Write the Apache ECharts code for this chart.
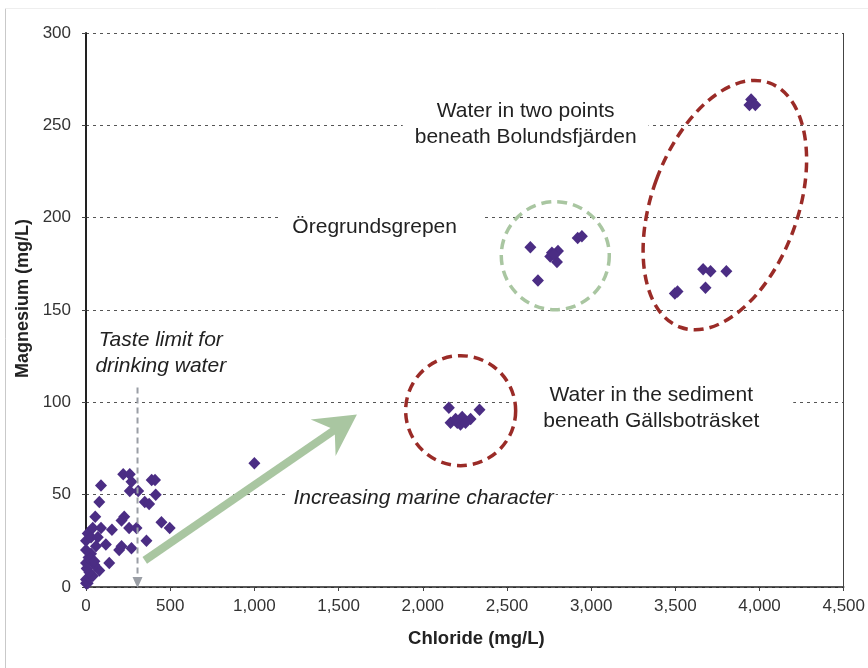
<!DOCTYPE html>
<html><head><meta charset="utf-8">
<script src="https://cdn.jsdelivr.net/npm/echarts@6/dist/echarts.min.js"></script>
<style>html,body{margin:0;padding:0;background:#fff}#c{width:868px;height:668px}</style>
</head><body><div id="c"></div>
<script>
// ---- data (Chloride mg/L, Magnesium mg/L) ----
const xRange = [0, 4500, 500];
const yRange = [0, 300, 50];
const lowSalinity = [
  [0,2],[10,2],[0,4],[20,5],[40,6],[20,8],[79,9],[49,12],[0,13],[138,13],[4,10],
  [30,18],[15,16],[50,14],[0,20],[59,22],[197,20],[118,23],[0,25],[10,29],[30,27],[70,27],
  [40,32],[89,32],[154,31],[256,32],[300,32],[227,38],[55,38],[79,46],[349,46],[375,45],
  [414,50],[260,52],[310,52],[270,57],[89,55],[390,58],[410,58],[221,61],[260,61],
  [211,36],[448,35],[497,32],[359,25],[211,22],[270,21],[1000,67]
];
const gallsbotrasket = [[2155,97],[2337,96],[2165,89],[2205,89],[2234,92],[2224,88],[2284,91],[2254,89],[2195,91]];
const oregrundsgrepen = [[2639,184],[2920,189],[2945,190],[2803,182],[2767,181],[2757,179],[2797,176],[2780,180],[2684,166]];
const bolundsfjarden = [[3950,264],[3940,261],[3975,261],[3665,172],[3709,171],[3803,171],[3679,162],[3497,159],[3513,160]];

// annotation anchors in data units
const labels = [
  {text:'Water in two points\nbeneath Bolundsfjärden', at:[2611,250.4], italic:false, pad:[3,12,3,12]},
  {text:'Öregrundsgrepen', at:[1753,195], italic:false, pad:[5,26,5,13]},
  {text:'Water in the sediment\nbeneath Gällsboträsket', at:[3357,96.6], italic:false, pad:[3,34,3,34]},
  {text:'Taste limit for\ndrinking water', at:[444,126.7], italic:true, pad:[0,0,0,0]},
  {text:'Increasing marine character', at:[1987,48], italic:true, pad:[4,2,4,8]}
];
const tasteLimit = {x:306, from:108, to:0};
const trendArrow = {from:[349,14.4], to:[1609,93.4]};
const galCircle = {c:[2225,95.5], r:55};
const oreCircle = {c:[2787,179.4], r:54};
const bolEllipse = {c:[3794,206.8], rx:73, ry:130, angleDeg:20};

const FONT = "'Liberation Sans', Arial, sans-serif";
const PURPLE = '#4b2d84', RED = '#9a2b27', GREEN = '#a9c6a1', GREY = '#9a9ea5';

const chart = echarts.init(document.getElementById('c'), null, {renderer:'canvas'});
const mk = (name, data) => ({
  name, type:'scatter', data, symbol:'diamond', symbolSize:[12,12.5],
  itemStyle:{color:PURPLE, opacity:1}, z:3, silent:true
});
chart.setOption({
  animation:false,
  backgroundColor:'#fff',
  grid:{left:86, right:22, top:33, bottom:81, containLabel:false},
  xAxis:{
    type:'value', min:xRange[0], max:xRange[1], interval:xRange[2],
    name:'Chloride (mg/L)', nameLocation:'middle', nameGap:42,
    nameTextStyle:{fontFamily:FONT, fontWeight:'bold', fontSize:18.5, color:'#222', padding:[0,0,0,23]},
    axisLine:{show:true, onZero:false, lineStyle:{color:'#222', width:1.5}},
    axisTick:{show:true, length:4, lineStyle:{color:'#444'}},
    axisLabel:{fontFamily:FONT, fontSize:17, color:'#333', margin:11,
      formatter:v=>v.toLocaleString('en-US')},
    splitLine:{show:false}
  },
  yAxis:{
    type:'value', min:yRange[0], max:yRange[1], interval:yRange[2],
    name:'Magnesium (mg/L)', nameLocation:'middle', nameGap:49, nameRotate:90,
    nameTextStyle:{fontFamily:FONT, fontWeight:'bold', fontSize:18, color:'#222', padding:[0,0,0,23]},
    axisLine:{show:true, onZero:false, lineStyle:{color:'#222', width:2}},
    axisTick:{show:true, length:4, lineStyle:{color:'#444'}},
    axisLabel:{fontFamily:FONT, fontSize:17, color:'#333', margin:15},
    splitLine:{show:true, lineStyle:{color:'#555', width:1, type:[3,4]}}
  },
  series:[mk('low',lowSalinity), mk('gal',gallsbotrasket), mk('ore',oregrundsgrepen), mk('bol',bolundsfjarden)]
});

const P = (d) => chart.convertToPixel({gridIndex:0}, d);
const g = [];
// outer frame lines
g.push({type:'line', shape:{x1:5.5,y1:8.5,x2:5.5,y2:668}, style:{stroke:'#c9c9c9', lineWidth:1}, z:1});
g.push({type:'line', shape:{x1:5.5,y1:8.5,x2:868,y2:8.5}, style:{stroke:'#eeeeee', lineWidth:1}, z:1});
// right border of plot
const rTop = P([xRange[1], yRange[1]]), rBot = P([xRange[1], yRange[0]]);
g.push({type:'line', shape:{x1:Math.round(rTop[0])-0.5,y1:rTop[1],x2:Math.round(rTop[0])-0.5,y2:rBot[1]}, style:{stroke:'#444', lineWidth:1}, z:1});

// text labels with white background
labels.forEach(l => {
  const p = P(l.at);
  g.push({type:'text', x:p[0], y:p[1], z:20,
    style:{text:l.text, fill:'#222', font:(l.italic?'italic ':'')+'21px '+FONT,
      align:'center', verticalAlign:'middle', lineHeight:26,
      backgroundColor: l.italic && l.pad[0]===0 ? null : '#fff', padding:l.pad}});
});

// taste limit dashed line with arrow
const t1 = P([tasteLimit.x, tasteLimit.from]), t2 = P([tasteLimit.x, tasteLimit.to]);
g.push({type:'line', shape:{x1:t1[0],y1:t1[1],x2:t2[0],y2:t2[1]-8}, style:{stroke:GREY, lineWidth:2, lineDash:[6,4]}, z:25});
g.push({type:'polygon', shape:{points:[[t2[0]-5,t2[1]-10],[t2[0]+5,t2[1]-10],[t2[0],t2[1]+1]]}, style:{fill:GREY}, z:25});

// green trend arrow
const a0 = P(trendArrow.from), a1 = P(trendArrow.to);
const dx = a1[0]-a0[0], dy = a1[1]-a0[1], len = Math.hypot(dx,dy);
const ux = dx/len, uy = dy/len, nx = -uy, ny = ux;
const headLen = 41, headHalf = 22, notch = 27;
const B = [a1[0]-headLen*ux, a1[1]-headLen*uy];
const N = [a1[0]-notch*ux, a1[1]-notch*uy];
g.push({type:'line', shape:{x1:a0[0],y1:a0[1],x2:N[0]+2*ux,y2:N[1]+2*uy}, style:{stroke:GREEN, lineWidth:8, lineCap:'butt'}, z:25});
g.push({type:'polygon', shape:{points:[a1, [B[0]+headHalf*nx, B[1]+headHalf*ny], N, [B[0]-headHalf*nx, B[1]-headHalf*ny]]}, style:{fill:GREEN}, z:25});

// circles and ellipse
const gc = P(galCircle.c), oc = P(oreCircle.c), ec = P(bolEllipse.c);
g.push({type:'circle', shape:{cx:gc[0], cy:gc[1], r:galCircle.r}, style:{fill:null, stroke:RED, lineWidth:3.5, lineDash:[10,6]}, z:30});
g.push({type:'circle', shape:{cx:oc[0], cy:oc[1], r:oreCircle.r}, style:{fill:null, stroke:GREEN, lineWidth:3.5, lineDash:[10,6]}, z:30});
g.push({type:'ellipse', x:ec[0], y:ec[1], rotation:-bolEllipse.angleDeg*Math.PI/180,
  shape:{cx:0, cy:0, rx:bolEllipse.rx, ry:bolEllipse.ry}, style:{fill:null, stroke:RED, lineWidth:3.5, lineDash:[10,6]}, z:30});

chart.setOption({graphic:{elements:g}});
</script>
</body></html>
